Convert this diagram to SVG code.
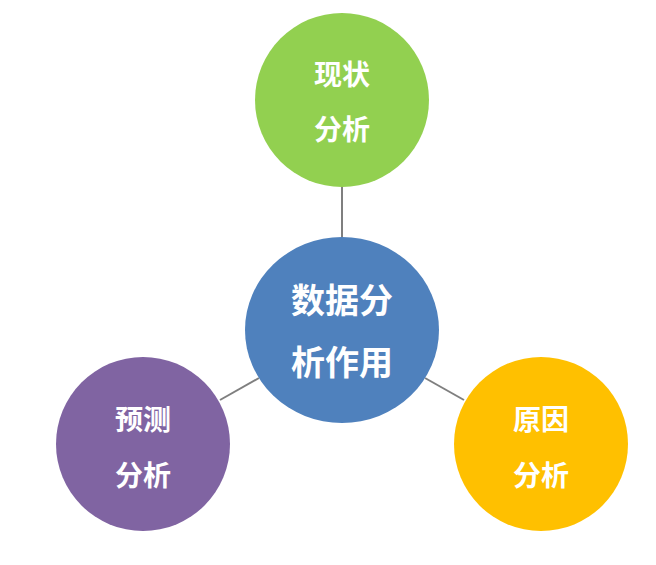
<svg xmlns="http://www.w3.org/2000/svg" width="656" height="565" viewBox="0 0 656 565">
<style>
text{font-family:"Noto Sans CJK SC","Noto Sans",sans-serif;font-weight:bold;fill:#fff;text-anchor:middle}
.s{font-size:28px}.b{font-size:34px}
line{stroke:#7f7f7f;stroke-width:2}
</style>
<rect width="656" height="565" fill="#fff"/>
<g id="connectors">
<line x1="342" y1="187" x2="342" y2="237"/>
<line x1="220" y1="400" x2="259" y2="378"/>
<line x1="425" y1="378" x2="464" y2="400"/>
</g>
<g id="top"><circle cx="342" cy="100" r="87" fill="#92d050"/><text class="s" x="342" y="85">现状</text><text class="s" x="342" y="140">分析</text></g>
<g id="center"><ellipse cx="342" cy="330" rx="97" ry="93" fill="#4f81bd"/><text class="b" x="342" y="313">数据分</text><text class="b" x="342" y="375">析作用</text></g>
<g id="left"><circle cx="143" cy="444" r="87" fill="#8064a2"/><text class="s" x="143" y="430">预测</text><text class="s" x="143" y="486">分析</text></g>
<g id="right"><circle cx="541" cy="444" r="87" fill="#ffc000"/><text class="s" x="541" y="430">原因</text><text class="s" x="541" y="486">分析</text></g>
</svg>
